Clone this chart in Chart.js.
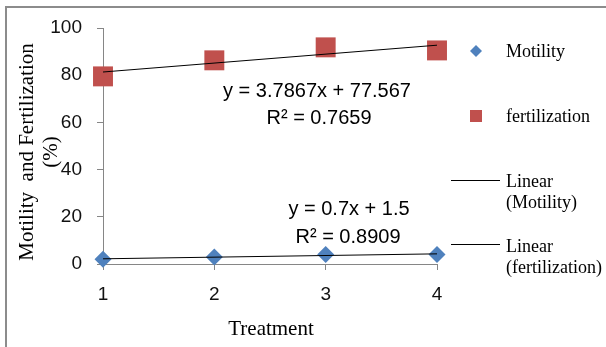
<!DOCTYPE html>
<html><head><meta charset="utf-8">
<style>html,body{margin:0;padding:0;background:#fff;overflow:hidden}#wrap{width:606px;height:347px;position:relative}</style>
<script src="https://cdn.jsdelivr.net/npm/chart.js@4.4.1/dist/chart.umd.min.js"></script>
</head><body><div id="wrap"><canvas id="c" width="606" height="347"></canvas></div>
<script>
const treatments = [1, 2, 3, 4];
const motility = [2, 3, 4, 4];
const fertilization = [79.5, 86.3, 91.8, 90.5];
const yTicks = [0, 20, 40, 60, 80, 100];
const trendMotility = { slope: 0.7, intercept: 1.5, r2: 0.8909 };
const trendFert = { slope: 3.7867, intercept: 77.567, r2: 0.7659 };
const legendLabels = ['Motility', 'fertilization', ['Linear', '(Motility)'], ['Linear', '(fertilization)']];
const yTitle = ['Motility  and Fertilization', '(%)'];
const xTitle = 'Treatment';

const BLUE = '#4f81bd', RED = '#c0504d', AXIS = '#868686';
const SERIF = '"Liberation Serif", "Times New Roman", serif';
const SANS = '"Liberation Sans", Arial, sans-serif';

function trendPoints(t) {
  const x0 = treatments[0], x1 = treatments[treatments.length - 1];
  return [{ x: x0, y: t.intercept + t.slope * x0 }, { x: x1, y: t.intercept + t.slope * x1 }];
}

const extras = {
  id: 'extras',
  beforeDraw(chart) {
    const ctx = chart.ctx;
    ctx.save();
    ctx.strokeStyle = '#8c8c8c';
    ctx.lineWidth = 2;
    ctx.strokeRect(6, 7, 700, 400);
    ctx.restore();
  },
  afterDraw(chart) {
    const ctx = chart.ctx;
    ctx.save();
    ctx.fillStyle = '#000';
    ctx.textAlign = 'center';
    ctx.textBaseline = 'middle';
    // equations
    ctx.font = '20px ' + SANS;
    ctx.fillText('y = ' + trendFert.slope + 'x + ' + trendFert.intercept, 317, 91);
    ctx.fillText('R\u00b2 = ' + trendFert.r2, 319, 118);
    ctx.fillText('y = ' + trendMotility.slope + 'x + ' + trendMotility.intercept, 349, 209);
    ctx.fillText('R\u00b2 = ' + trendMotility.r2, 348, 237);
    // x title
    ctx.font = '21px ' + SERIF;
    ctx.fillText(xTitle, 271, 329);
    // y title
    ctx.save();
    ctx.translate(0, 152);
    ctx.rotate(-Math.PI / 2);
    ctx.fillText(yTitle[0], 0, 27);
    ctx.fillText(yTitle[1], 0, 51);
    ctx.restore();
    // legend
    ctx.textAlign = 'left';
    ctx.font = '18px ' + SERIF;
    ctx.fillStyle = BLUE;
    ctx.beginPath();
    ctx.moveTo(476, 45); ctx.lineTo(482, 51); ctx.lineTo(476, 57); ctx.lineTo(470, 51); ctx.closePath();
    ctx.fill();
    ctx.fillStyle = RED;
    ctx.fillRect(470, 110, 12, 12);
    ctx.strokeStyle = '#000';
    ctx.lineWidth = 1;
    ctx.beginPath();
    ctx.moveTo(451, 180.5); ctx.lineTo(500, 180.5);
    ctx.moveTo(451, 244.5); ctx.lineTo(500, 244.5);
    ctx.stroke();
    ctx.fillStyle = '#000';
    ctx.fillText(legendLabels[0], 506, 52);
    ctx.fillText(legendLabels[1], 506, 117);
    ctx.fillText(legendLabels[2][0], 506, 182);
    ctx.fillText(legendLabels[2][1], 506, 203);
    ctx.fillText(legendLabels[3][0], 506, 247);
    ctx.fillText(legendLabels[3][1], 506, 268);
    ctx.restore();
  }
};

new Chart(document.getElementById('c'), {
  type: 'scatter',
  data: {
    datasets: [
      { type: 'line', label: 'Linear (Motility)', data: trendPoints(trendMotility), borderColor: '#000', borderWidth: 1, pointRadius: 0, fill: false, clip: false },
      { type: 'line', label: 'Linear (fertilization)', data: trendPoints(trendFert), borderColor: '#000', borderWidth: 1, pointRadius: 0, fill: false, clip: false },
      { label: 'Motility', data: treatments.map((x, i) => ({ x, y: motility[i] })), pointStyle: 'rectRot', pointRadius: 8.5, backgroundColor: BLUE, borderColor: BLUE, borderWidth: 0, clip: false },
      { label: 'fertilization', data: treatments.map((x, i) => ({ x, y: fertilization[i] })), pointStyle: 'rect', pointRadius: 14.1, backgroundColor: RED, borderColor: RED, borderWidth: 0, clip: false }
    ]
  },
  options: {
    responsive: false,
    animation: false,
    devicePixelRatio: 1,
    layout: { padding: { top: 28, right: 169, left: 0, bottom: 0 } },
    plugins: { legend: { display: false }, tooltip: { enabled: false } },
    scales: {
      x: {
        type: 'linear', min: 1, max: 4,
        afterBuildTicks: s => { s.ticks = treatments.map(v => ({ value: v })); },
        afterFit: s => { s.height = 83; },
        grid: { drawOnChartArea: false, drawTicks: true, tickLength: 6, color: AXIS },
        border: { display: true, color: AXIS },
        ticks: { font: { family: SANS, size: 19 }, color: '#111', padding: 13 }
      },
      y: {
        min: 0, max: 100,
        afterBuildTicks: s => { s.ticks = yTicks.map(v => ({ value: v })); },
        afterFit: s => { s.width = 103; },
        grid: { drawOnChartArea: false, drawTicks: true, tickLength: 6, color: AXIS },
        border: { display: true, color: AXIS },
        ticks: { font: { family: SANS, size: 19 }, color: '#111', padding: 15 }
      }
    }
  },
  plugins: [extras]
});
</script></body></html>
